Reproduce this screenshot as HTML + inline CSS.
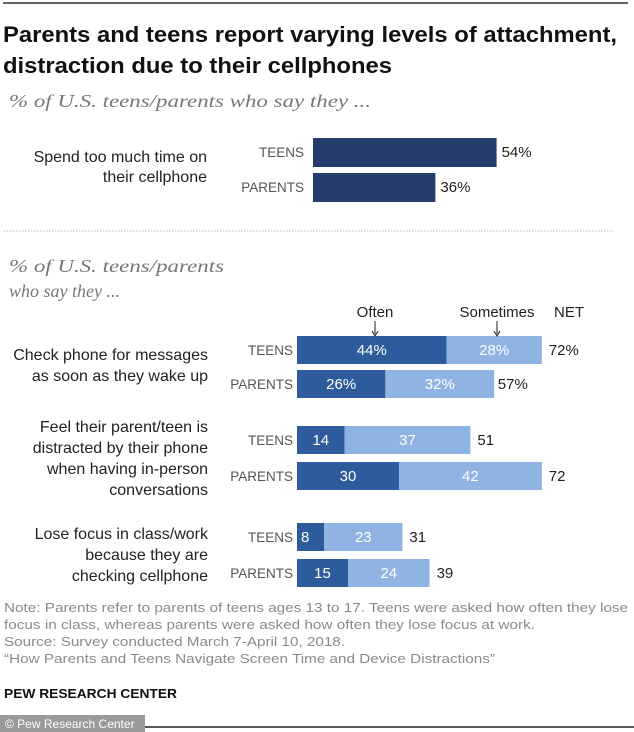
<!DOCTYPE html>
<html><head><meta charset="utf-8"><style>
html,body{margin:0;padding:0;background:#fff}
svg{display:block}
text{font-family:"Liberation Sans",sans-serif}
.lab{font-size:16px;fill:#222}
.grp{font-size:13.5px;fill:#555}
.val{font-size:15px;fill:#222}
.in{font-size:15px;fill:#fff}
.sub{font-family:"Liberation Serif",serif;font-style:italic;font-size:18px;fill:#777}
.note{font-size:12.5px;fill:#8a8a8a}
</style></head><body>
<svg id="chart" width="634" height="732" viewBox="0 0 634 732" xmlns="http://www.w3.org/2000/svg">
<line x1="3" y1="3" x2="628" y2="3" stroke="#333" stroke-width="1.5"/>
<text x="3" y="42" font-size="22" font-weight="bold" fill="#111" textLength="614" lengthAdjust="spacingAndGlyphs">Parents and teens report varying levels of attachment,</text>
<text x="3" y="73" font-size="22" font-weight="bold" fill="#111" textLength="389" lengthAdjust="spacingAndGlyphs">distraction due to their cellphones</text>
<text class="sub" x="9" y="107" textLength="362" lengthAdjust="spacingAndGlyphs">% of U.S. teens/parents who say they ...</text>
<line x1="4" y1="231" x2="614" y2="231" stroke="#bbb" stroke-width="1" stroke-dasharray="1.5,1.5"/>
<text class="sub" x="9" y="272" textLength="215" lengthAdjust="spacingAndGlyphs">% of U.S. teens/parents</text>
<text class="sub" x="9" y="297">who say they ...</text>
<g id="top"></g>
<g id="bottom"></g>
<text class="val" x="375" y="317" text-anchor="middle" font-size="14">Often</text>
<line x1="375" y1="321" x2="375" y2="334" stroke="#222" stroke-width="1"/>
<path d="M372,331 L375,336 L378,331" fill="none" stroke="#222"/>
<text class="val" x="497" y="317" text-anchor="middle" font-size="14">Sometimes</text>
<line x1="497" y1="321" x2="497" y2="334" stroke="#222" stroke-width="1"/>
<path d="M494,331 L497,336 L500,331" fill="none" stroke="#222"/>
<text class="val" x="554" y="317" font-size="14">NET</text>
<text class="note" x="4" y="612" textLength="624" lengthAdjust="spacingAndGlyphs">Note: Parents refer to parents of teens ages 13 to 17. Teens were asked how often they lose</text>
<text class="note" x="4" y="629" textLength="531" lengthAdjust="spacingAndGlyphs">focus in class, whereas parents were asked how often they lose focus at work.</text>
<text class="note" x="4" y="646" textLength="341" lengthAdjust="spacingAndGlyphs">Source: Survey conducted March 7-April 10, 2018.</text>
<text class="note" x="4" y="663" textLength="491" lengthAdjust="spacingAndGlyphs">“How Parents and Teens Navigate Screen Time and Device Distractions”</text>
<text x="4" y="698" font-size="13" font-weight="bold" fill="#111" textLength="173" lengthAdjust="spacingAndGlyphs">PEW RESEARCH CENTER</text>
<line x1="0" y1="727" x2="634" y2="727" stroke="#222" stroke-width="1.5"/>
<rect x="0" y="715" width="145" height="17" fill="#9a9a9a"/>
<text x="5" y="728" font-size="12" fill="#fff">© Pew Research Center</text>
</svg>
<script>
// Top chart data
const topGroups = ["TEENS", "PARENTS"];
const topValues = [54, 36];
const topLabels = ["54%", "36%"];
// Bottom chart data
const questions = [["Check phone for messages","as soon as they wake up"],["Feel their parent/teen is","distracted by their phone","when having in-person","conversations"],["Lose focus in class/work","because they are","checking cellphone"]];
const teensOften = [44, 14, 8];
const teensSometimes = [28, 37, 23];
const teensNet = [72, 51, 31];
const parentsOften = [26, 30, 15];
const parentsSometimes = [32, 42, 24];
const parentsNet = [57, 72, 39];
const pct = [true, false, false];

const NS = "http://www.w3.org/2000/svg";
function mk(tag, attrs, parent, txt){const e=document.createElementNS(NS,tag);for(const k in attrs)e.setAttribute(k,attrs[k]);if(txt!==undefined)e.textContent=txt;parent.appendChild(e);return e;}
const SC = 3.4;
const xTop = v => 313 + v*SC;
const xB = v => 297 + v*SC;

const gt = document.getElementById('top');
const tq = mk('text',{class:'lab','text-anchor':'end',x:207,y:162},gt,'Spend too much time on');


const tq2 = mk('text',{class:'lab','text-anchor':'end',x:207,y:182},gt,'their cellphone');


topValues.forEach((v,i)=>{
  const y = 138 + i*35;
  const g = mk('text',{class:'grp','text-anchor':'end',x:304,y:y+19},gt,topGroups[i]);
  
  
  const r = mk('rect',{x:xTop(0),y:y,width:xTop(v)-xTop(0),height:29,fill:'#243d6c'},gt);
  
  
  const t = mk('text',{class:'val',x:xTop(v)+5,y:y+19},gt,topLabels[i]);
  
  
});

const gb = document.getElementById('bottom');
const rowTops = [[336,370],[426,462],[523,559]];
const labBase = [360,432,539];
questions.forEach((lines,q)=>{
  lines.forEach((ln,j)=>{
    const t = mk('text',{class:'lab','text-anchor':'end',x:208,y:labBase[q]+j*21},gb,ln);
    
    
  });
  const rows = [["TEENS",teensOften[q],teensSometimes[q],teensNet[q]],["PARENTS",parentsOften[q],parentsSometimes[q],parentsNet[q]]];
  rows.forEach((r,k)=>{
    const y = rowTops[q][k], h = 28, s = pct[q]?'%':'';
    const nm = r[0].toLowerCase();
    const g = mk('text',{class:'grp','text-anchor':'end',x:293,y:y+19},gb,r[0]);
    
    
    const b1 = mk('rect',{x:xB(0),y:y,width:xB(r[1])-xB(0),height:h,fill:'#2d5b9c'},gb);
    
    
    const b2 = mk('rect',{x:xB(r[1]),y:y,width:xB(r[1]+r[2])-xB(r[1]),height:h,fill:'#8fb3e3'},gb);
    
    
    const w1 = xB(r[1])-xB(0);
    const t1 = mk('text',{class:'in','text-anchor':'middle',x:xB(0)+w1/2,y:y+19},gb,r[1]+s);
    if (w1 < 30) { t1.setAttribute('text-anchor','start'); t1.setAttribute('x', xB(0)+4); }
    
    
    const t2 = mk('text',{class:'in','text-anchor':'middle',x:(xB(r[1])+xB(r[1]+r[2]))/2,y:y+19},gb,r[2]+s);
    
    
    const t3 = mk('text',{class:'val',x:xB(r[3])+7,y:y+19},gb,r[3]+s);
    
    
  });
});
</script>
</body></html>
